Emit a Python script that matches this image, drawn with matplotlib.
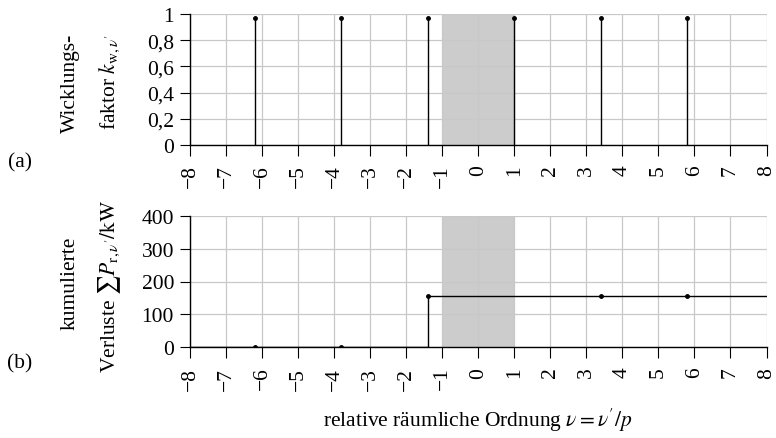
import matplotlib
matplotlib.use("Agg")
import matplotlib.pyplot as plt

plt.rcParams["font.family"] = ["Liberation Serif", "DejaVu Serif"]
plt.rcParams["mathtext.fontset"] = "stix"
plt.rcParams["font.size"] = 15.5

# Data
orders = [-6.2, -3.8, -1.4, 1.0, 3.4, 5.8]
winding_factor = [0.966, 0.966, 0.966, 0.966, 0.966, 0.966]
loss_orders = [-6.2, -3.8, -1.4, 3.4, 5.8]
cum_losses = [0.3, 1.5, 156, 157, 157]
xticks = list(range(-8, 9))
yticks_a = [0, 0.2, 0.4, 0.6, 0.8, 1.0]
yticklabels_a = ["0", "0,2", "0,4", "0,6", "0,8", "1"]
yticks_b = [0, 100, 200, 300, 400]
band = (-1, 1)

fig = plt.figure(figsize=(7.76, 4.39), dpi=100)
W, H = 776, 439
ax1 = fig.add_axes([190 / W, 1 - 146 / H, 576.5 / W, 131 / H])
ax2 = fig.add_axes([190 / W, 1 - 348.3 / H, 576.5 / W, 131.6 / H])

grid_col = "#c8c8c8"


def style(ax):
    ax.set_xlim(-8, 8)
    ax.set_xticks(xticks)
    ax.set_xticklabels([str(t).replace("-", "\u2212") for t in xticks], rotation=90)
    ax.grid(True, color=grid_col, linewidth=0.9, zorder=1)
    ax.set_axisbelow(True)
    ax.axvspan(band[0], band[1], color="#cccccc", zorder=0.5, linewidth=0)
    for s in ["top", "right"]:
        ax.spines[s].set_visible(False)
    for s in ["left", "bottom"]:
        ax.spines[s].set_linewidth(1.0)
        ax.spines[s].set_zorder(3)
    ax.tick_params(axis="x", direction="out", length=8, width=0.8, pad=6)
    ax.tick_params(axis="y", direction="out", length=7.5, width=0.8, pad=4)


# (a) winding factor
style(ax1)
ax1.set_ylim(0, 1)
ax1.set_yticks(yticks_a)
ax1.set_yticklabels(yticklabels_a)
ax1.vlines(orders, 0, winding_factor, color="black", linewidth=1.0, zorder=4)
ax1.plot(orders, winding_factor, "o", color="black", markersize=2.5, zorder=5)

# (b) cumulative losses
style(ax2)
ax2.set_ylim(0, 400)
ax2.set_yticks(yticks_b)
xs = [-8] + loss_orders + [8]
ys = [0] + cum_losses + [cum_losses[-1]]
ax2.plot(xs, ys, drawstyle="steps-post", color="black", linewidth=1.0, zorder=4)
ax2.plot(loss_orders, cum_losses, "o", color="black", markersize=2.5, zorder=5)

# labels
fig.text(70 / W, 1 - 83 / H, "Wicklungs-", rotation=90, ha="center", va="center")
fig.text(110 / W, 1 - 82 / H, r"faktor $k_{\mathrm{w},\nu'}$", rotation=90,
         ha="center", va="center")
fig.text(70 / W, 1 - 283 / H, "kumulierte", rotation=90, ha="center", va="center")
fig.text(110 / W, 1 - 286 / H, r"Verluste $\sum P_{\mathrm{r},\nu'}/\mathrm{kW}$",
         rotation=90, ha="center", va="center")
fig.text(20 / W, 1 - 163 / H, "(a)", ha="center", va="center")
fig.text(20 / W, 1 - 364 / H, "(b)", ha="center", va="center")
fig.text(478 / W, 1 - 420 / H, r"relative räumliche Ordnung $\nu = \nu'/p$",
         ha="center", va="center")

fig.savefig("out.png", dpi=100)
